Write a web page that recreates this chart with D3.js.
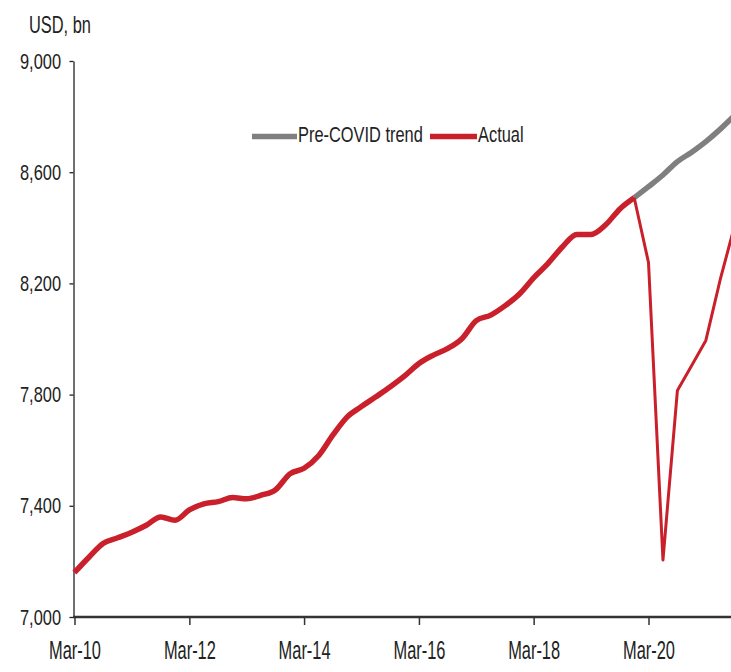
<!DOCTYPE html>
<html>
<head>
<meta charset="utf-8">
<script src="https://cdn.jsdelivr.net/npm/d3@7"></script>
<style>
  html, body { margin: 0; padding: 0; background: #fff; }
  svg { display: block; }
  text { font-family: "Liberation Sans", Arial, sans-serif; fill: #222; }
</style>
</head>
<body>
<svg id="chart" width="731" height="672"></svg>
<script>
// ---- data (quarterly, starting Mar-10) ----
const quarters = d3.range(47).map(i => new Date(2010, 2 + 3 * i, 1));
const actual = [
  7160, 7215, 7265, 7285, 7305, 7330, 7360, 7348, 7385, 7407,
  7415, 7430, 7425, 7438, 7458, 7515, 7535, 7580, 7655, 7720,
  7757, 7792, 7828, 7867, 7912, 7942, 7966, 8002, 8066, 8086,
  8120, 8162, 8220, 8272, 8332, 8376, 8376, 8410, 8468, 8508,
  8275, 7205, 7815, 7905, 7995, 8215, 8410
];
const trendStart = 39; // Dec-19
const trend = [8508, 8548, 8590, 8638, 8672, 8710, 8755, 8805];
const yTicks = [7000, 7400, 7800, 8200, 8600, 9000];
const xTickDates = [2010, 2012, 2014, 2016, 2018, 2020].map(y => new Date(y, 2, 1));
const seriesNames = ["Pre-COVID trend", "Actual"];
const unitLabel = "USD, bn";

// ---- layout ----
const svg = d3.select("#chart");
const x = d3.scaleTime().domain([new Date(2010, 2, 1), new Date(2020, 2, 1)]).range([74.5, 648.5]);
const y = d3.scaleLinear().domain([7000, 9000]).range([617, 61]);
const red = "#c9202b", grey = "#7f7f7f";
const SX = 0.82; // narrow-font look

// y axis
const gy = svg.append("g").attr("transform", "translate(73.5,0)")
  .call(d3.axisLeft(y).tickValues(yTicks).tickSize(4).tickSizeOuter(0).tickFormat(d3.format(",")));
gy.select(".domain").attr("stroke", "#222").attr("stroke-width", 1.3);
gy.selectAll(".tick line").attr("stroke", "#222").attr("stroke-width", 1.3);
gy.selectAll(".tick text").attr("x", -12.5 / SX).attr("font-size", 20).attr("fill", "#222")
  .attr("font-family", null).attr("transform", `scale(${SX},1.1)`).attr("dy", "0.32em");

// x axis
const gx = svg.append("g").attr("transform", "translate(0,617)")
  .call(d3.axisBottom(x).tickValues(xTickDates).tickSize(8).tickSizeOuter(0).tickFormat(d3.timeFormat("%b-%y")));
gx.select(".domain").attr("stroke", "#333").attr("stroke-width", 2.5).attr("d", "M73,0H731");
gx.selectAll(".tick line").attr("stroke", "#333").attr("stroke-width", 1.5);
gx.selectAll(".tick text").attr("font-size", 20).attr("fill", "#222").attr("font-family", null)
  .attr("dy", 0).attr("y", 42 / 1.3).attr("transform", `scale(${SX},1.3)`);

// helper for free text
function label(px, py, str, sy) {
  return svg.append("text").attr("transform", `translate(${px},${py}) scale(${SX},${sy})`)
    .attr("font-size", 20).text(str);
}
label(29, 33, unitLabel, 1.15);

// lines
const smooth = d3.line().curve(d3.curveMonotoneX).x(d => x(d[0])).y(d => y(d[1]));
const straight = d3.line().x(d => x(d[0])).y(d => y(d[1]));
const actualPts = actual.map((v, i) => [quarters[i], v]);
const trendPts = trend.map((v, i) => [quarters[trendStart + i], v]);

svg.append("path").datum(trendPts).attr("d", smooth)
  .attr("fill", "none").attr("stroke", grey).attr("stroke-width", 5.5).attr("stroke-linejoin", "round");
svg.append("path").datum(actualPts.slice(trendStart)).attr("d", straight)
  .attr("fill", "none").attr("stroke", red).attr("stroke-width", 3).attr("stroke-linejoin", "round");
svg.append("path").datum(actualPts.slice(0, trendStart + 1)).attr("d", smooth)
  .attr("fill", "none").attr("stroke", red).attr("stroke-width", 5.5).attr("stroke-linejoin", "round");

// legend
const legItems = [
  { name: seriesNames[0], color: grey, x0: 252, x1: 297 },
  { name: seriesNames[1], color: red, x0: 430, x1: 477 }
];
legItems.forEach(it => {
  svg.append("line").attr("x1", it.x0).attr("x2", it.x1).attr("y1", 136.5).attr("y2", 136.5)
    .attr("stroke", it.color).attr("stroke-width", 5.5);
  label(it.x1 + 1, 142, it.name, 1.12);
});
</script>
</body>
</html>
